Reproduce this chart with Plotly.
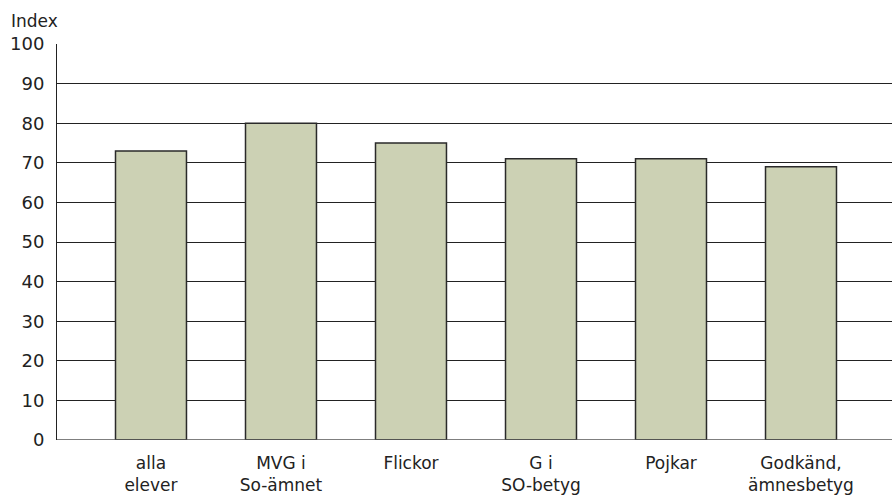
import plotly.graph_objects as go

categories = ["alla<br>elever", "MVG i<br>So-ämnet", "Flickor", "G i<br>SO-betyg", "Pojkar", "Godkänd,<br>ämnesbetyg"]
values = [73, 80, 75, 71, 71, 69]
y_ticks = list(range(0, 101, 10))

FONT = "DejaVu Sans, Verdana, sans-serif"

fig = go.Figure(
    go.Bar(
        x=list(range(len(categories))),
        y=values,
        width=0.546,
        marker=dict(color="#ccd1b4", line=dict(color="#2a2a2a", width=1.5)),
        hoverinfo="y",
    )
)

fig.update_layout(
    width=893,
    height=496,
    margin=dict(l=57, r=1, t=44, b=56),
    paper_bgcolor="white",
    plot_bgcolor="white",
    showlegend=False,
    font=dict(family=FONT, size=17, color="#222"),
    xaxis=dict(
        range=[-0.723, 5.7],
        tickmode="array",
        tickvals=list(range(len(categories))),
        ticktext=categories,
        showgrid=False,
        zeroline=False,
        showline=False,
        ticks="",
        ticklabelstandoff=11,
        tickfont=dict(size=17, color="#222"),
    ),
    yaxis=dict(
        range=[0, 100],
        tickvals=y_ticks,
        showgrid=True,
        gridcolor="#222",
        gridwidth=1,
        zeroline=False,
        showline=True,
        linecolor="#222",
        linewidth=1,
        ticks="",
        ticklabelstandoff=8,
        tickfont=dict(size=18, color="#222"),
    ),
    annotations=[
        dict(
            text="Index",
            xref="paper", yref="paper",
            x=-0.057, y=1.028,
            xanchor="left", yanchor="bottom",
            showarrow=False,
            font=dict(size=17, color="#222"),
        )
    ],
)

fig.add_shape(type="line", xref="paper", yref="y", x0=0, x1=1, y0=0, y1=0,
              line=dict(color="#555", width=1.5))

fig.write_html("out.html")
